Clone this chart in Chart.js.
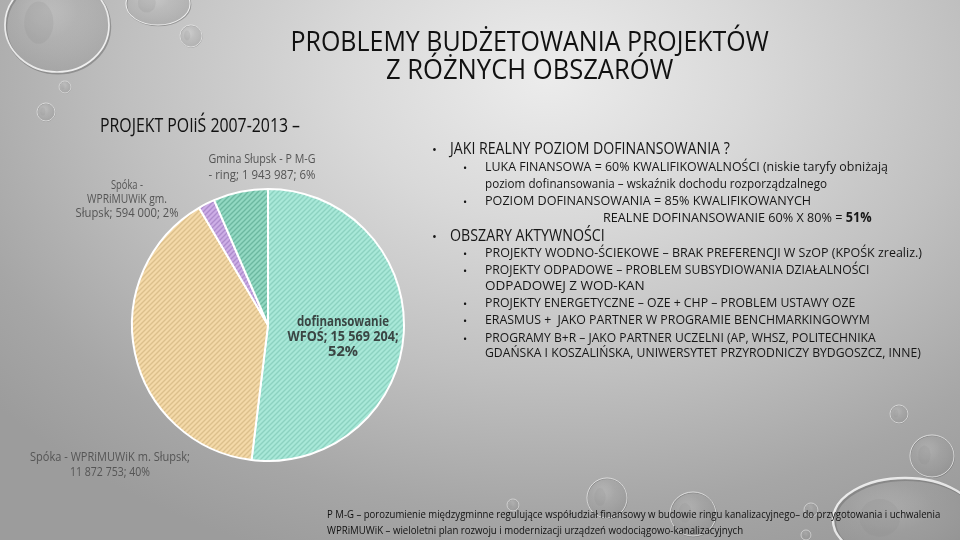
<!DOCTYPE html>
<html>
<head>
<meta charset="utf-8">
<script src="https://cdn.jsdelivr.net/npm/chart.js@4.4.1/dist/chart.umd.min.js"></script>
<style>
  html, body { margin: 0; padding: 0; }
  #slide {
    position: relative; width: 960px; height: 540px; overflow: hidden;
    background: radial-gradient(ellipse 75% 95% at 57% 14%, #ececec 0%, #d9d9d9 28%, #c0c0c0 58%, #a6a6a6 85%, #9c9c9c 100%);
    font-family: "Open Sans", sans-serif;
  }
  #drops { position: absolute; left: 0; top: 0; }
  #chartCanvas { position: absolute; left: 0; top: 0; }
  .t { position: absolute; white-space: pre; line-height: 1; }
  .tl { transform-origin: 0 50%; }
  .tc { transform-origin: 50% 50%; }
</style>
</head>
<body>
<div id="slide">
  <svg id="drops" width="960" height="540">
    <defs>
      <radialGradient id="dg" cx="40%" cy="35%" r="65%">
        <stop offset="0%" stop-color="#e6e6e6" stop-opacity="0.15"/>
        <stop offset="45%" stop-color="#a0a0a0" stop-opacity="0.22"/>
        <stop offset="100%" stop-color="#808080" stop-opacity="0.30"/>
      </radialGradient>
    </defs>
    <g id="dropGroup"></g>
  </svg>
  <canvas id="chartCanvas" width="960" height="540"></canvas>
  <div id="texts"></div>
</div>
<script>
// ---- data ----
const categories = [
  "dofinansowanie WFOŚ",
  "Spóka - WPRiMUWiK m. Słupsk",
  "Spóka - WPRiMUWiK gm. Słupsk",
  "Gmina Słupsk - P M-G - ring"
];
const values = [15569204, 11872753, 594000, 1943987];
const baseColors = ["#a8e8d8", "#f4d9a8", "#cdaee6", "#92d8c2"];
const stripeColors = ["#8cd2c0", "#dcc08c", "#ad8ccc", "#6cb8a0"];

const titleLines = ["PROBLEMY BUDŻETOWANIA PROJEKTÓW", "Z RÓŻNYCH OBSZARÓW"];
const subtitle = "PROJEKT POIiŚ 2007-2013 –";
const bullets = [
  {lvl: 1, text: "JAKI REALNY POZIOM DOFINANSOWANIA ?"},
  {lvl: 2, text: "LUKA FINANSOWA = 60% KWALIFIKOWALNOŚCI (niskie taryfy obniżają"},
  {lvl: 3, text: "poziom dofinansowania – wskaźnik dochodu rozporządzalnego"},
  {lvl: 2, text: "POZIOM DOFINANSOWANIA = 85% KWALIFIKOWANYCH"},
  {lvl: 4, text: "REALNE DOFINANSOWANIE 60% X 80% = ", bold: "51%"},
  {lvl: 1, text: "OBSZARY AKTYWNOŚCI"},
  {lvl: 2, text: "PROJEKTY WODNO-ŚCIEKOWE – BRAK PREFERENCJI W SzOP (KPOŚK zrealiz.)"},
  {lvl: 2, text: "PROJEKTY ODPADOWE – PROBLEM SUBSYDIOWANIA DZIAŁALNOŚCI"},
  {lvl: 3, text: "ODPADOWEJ Z WOD-KAN"},
  {lvl: 2, text: "PROJEKTY ENERGETYCZNE – OZE + CHP – PROBLEM USTAWY OZE"},
  {lvl: 2, text: "ERASMUS +  JAKO PARTNER W PROGRAMIE BENCHMARKINGOWYM"},
  {lvl: 2, text: "PROGRAMY B+R – JAKO PARTNER UCZELNI (AP, WHSZ, POLITECHNIKA"},
  {lvl: 3, text: "GDAŃSKA I KOSZALIŃSKA, UNIWERSYTET PRZYRODNICZY BYDGOSZCZ, INNE)"}
];
const footnotes = [
  "P M-G – porozumienie międzygminne regulujące współudział finansowy w budowie ringu kanalizacyjnego– do przygotowania i uchwalenia",
  "WPRiMUWiK – wieloletni plan rozwoju i modernizacji urządzeń wodociągowo-kanalizacyjnych"
];

// ---- layout (positions/sizes only) ----
const bulletLayout = [
  {y: 149, w: 280}, {y: 167, w: 403}, {y: 184, w: 342}, {y: 201, w: 326},
  {y: 218, w: 269}, {y: 236, w: 155}, {y: 253, w: 437}, {y: 270, w: 384},
  {y: 286, w: 160}, {y: 303, w: 370}, {y: 320, w: 385}, {y: 338, w: 391},
  {y: 353, w: 436}
];
const labelLayout = [
  {cx: 343, ys: [322, 337, 352], ws: [92, 111, 30], words: [1, 4, 1], bold: true, color: "#3a4543", size: 13.5},
  {cx: 110, ys: [457, 472], ws: [160, 80], words: [5, 4], color: "#555555", size: 12.5},
  {cx: 127, ys: [185, 199, 213], ws: [32, 80, 103], words: [2, 2, 4], color: "#555555", size: 12.5},
  {cx: 262, ys: [159, 175], ws: [107, 107], words: [5, 6], color: "#555555", size: 12.5}
];
const dropsLayout = [
  [57, 25, 52, 47], [158, 4, 32, 21], [191, 36, 11, 11], [65, 87, 6, 6], [46, 112, 9, 9],
  [899, 414, 9, 9], [932, 456, 22, 21], [905, 520, 72, 42], [607, 498, 20, 20],
  [693, 514, 23, 22], [811, 510, 7, 7], [806, 535, 5, 5], [513, 505, 6, 6]
];

// ---- decorative drops ----
const dg = document.getElementById('dropGroup');
dropsLayout.forEach(([cx, cy, rx, ry]) => {
  const ns = "http://www.w3.org/2000/svg";
  const s = document.createElementNS(ns, "ellipse");
  s.setAttribute("cx", cx + rx * 0.02); s.setAttribute("cy", cy + ry * 0.03);
  s.setAttribute("rx", rx); s.setAttribute("ry", ry);
  s.setAttribute("fill", "none");
  s.setAttribute("stroke", "rgba(70,70,70,0.35)");
  s.setAttribute("stroke-width", Math.max(1, rx / 22));
  dg.appendChild(s);
  const e = document.createElementNS(ns, "ellipse");
  e.setAttribute("cx", cx); e.setAttribute("cy", cy);
  e.setAttribute("rx", rx); e.setAttribute("ry", ry);
  e.setAttribute("fill", "url(#dg)");
  e.setAttribute("stroke", "rgba(255,255,255,0.8)");
  e.setAttribute("stroke-width", Math.max(0.8, rx / 30));
  dg.appendChild(e);
  const h = document.createElementNS(ns, "ellipse");
  h.setAttribute("cx", cx - rx * 0.35); h.setAttribute("cy", cy - ry * 0.05);
  h.setAttribute("rx", rx * 0.28); h.setAttribute("ry", ry * 0.45);
  h.setAttribute("fill", "rgba(140,140,140,0.18)");
  dg.appendChild(h);
});

// ---- HTML texts ----
const texts = document.getElementById('texts');
function addText(str, opts) {
  const d = document.createElement('div');
  d.className = 't ' + (opts.center ? 'tc' : 'tl');
  d.style.fontSize = opts.size + 'px';
  d.style.color = opts.color || '#161616';
  if (opts.html) d.innerHTML = str; else d.textContent = str;
  texts.appendChild(d);
  const h = d.offsetHeight;
  const w = d.offsetWidth;
  const sx = opts.w ? opts.w / w : 1;
  const left = opts.center ? opts.x - w / 2 : opts.x;
  d.style.left = left + 'px';
  d.style.top = (opts.y - h / 2) + 'px';
  d.style.transform = 'scaleX(' + sx + ')';
  return d;
}
addText(titleLines[0], {x: 529, y: 40, size: 27, w: 478, center: true, color: '#111'});
addText(titleLines[1], {x: 529, y: 68, size: 27, w: 287, center: true, color: '#111'});
addText(subtitle, {x: 100, y: 125, size: 19.5, w: 200, color: '#111'});

bullets.forEach((b, i) => {
  const L = bulletLayout[i];
  const size = b.lvl === 1 ? 15.5 : 13.5;
  let x;
  if (b.lvl === 1) { x = 450; addText("•", {x: 432, y: L.y, size: 13, color: '#161616'}); }
  else if (b.lvl === 2) { x = 485; addText("•", {x: 463, y: L.y, size: 11, color: '#161616'}); }
  else if (b.lvl === 3) { x = 485; }
  else { x = 603; }
  if (b.bold) {
    addText(b.text.replace(/&/g,'&amp;') + '<b>' + b.bold + '</b>', {x: x, y: L.y, size: size, w: L.w, html: true});
  } else {
    addText(b.text, {x: x, y: L.y, size: size, w: L.w});
  }
});
addText(footnotes[0], {x: 327, y: 513, size: 11, w: 613, color: '#111'});
addText(footnotes[1], {x: 327, y: 529, size: 11, w: 416, color: '#111'});

// ---- chart ----
function makePattern(base, stripe) {
  const c = document.createElement('canvas');
  c.width = 5; c.height = 5;
  const g = c.getContext('2d');
  g.fillStyle = base; g.fillRect(0, 0, 5, 5);
  g.strokeStyle = stripe; g.lineWidth = 1.4;
  g.beginPath();
  g.moveTo(-1, 6); g.lineTo(6, -1);
  g.moveTo(-3.5, 3.5); g.lineTo(3.5, -3.5);
  g.moveTo(1.5, 8.5); g.lineTo(8.5, 1.5);
  g.stroke();
  return document.getElementById('chartCanvas').getContext('2d').createPattern(c, 'repeat');
}
const fills = baseColors.map((b, i) => makePattern(b, stripeColors[i]));
const total = values.reduce((a, b) => a + b, 0);
function fmt(v) { return String(v).replace(/\B(?=(\d{3})+(?!\d))/g, ' '); }

const labelPlugin = {
  id: 'sliceLabels',
  afterDatasetsDraw(chart) {
    const ctx = chart.ctx;
    categories.forEach((cat, i) => {
      const v = values[i];
      const pct = Math.round(v / total * 100);
      const full = cat + '; ' + fmt(v) + '; ' + pct + '%';
      const words = full.split(' ');
      const L = labelLayout[i];
      let k = 0;
      L.words.forEach((n, li) => {
        const line = words.slice(k, k + n).join(' ');
        k += n;
        ctx.save();
        ctx.font = (L.bold ? 'bold ' : '') + L.size + 'px "Open Sans", sans-serif';
        ctx.fillStyle = L.color;
        ctx.textAlign = 'center';
        ctx.textBaseline = 'middle';
        const mw = ctx.measureText(line).width;
        const sx = L.ws[li] / mw;
        ctx.translate(L.cx, L.ys[li]);
        ctx.scale(sx, 1);
        ctx.fillText(line, 0, 0);
        ctx.restore();
      });
    });
  }
};

new Chart(document.getElementById('chartCanvas'), {
  type: 'pie',
  data: {
    labels: categories,
    datasets: [{
      data: values,
      backgroundColor: fills,
      borderColor: '#ffffff',
      borderWidth: 2
    }]
  },
  options: {
    responsive: false,
    animation: false,
    layout: { padding: { left: 131, top: 188, right: 555, bottom: 78 } },
    plugins: { legend: { display: false }, tooltip: { enabled: false } }
  },
  plugins: [labelPlugin]
});
</script>
</body>
</html>
